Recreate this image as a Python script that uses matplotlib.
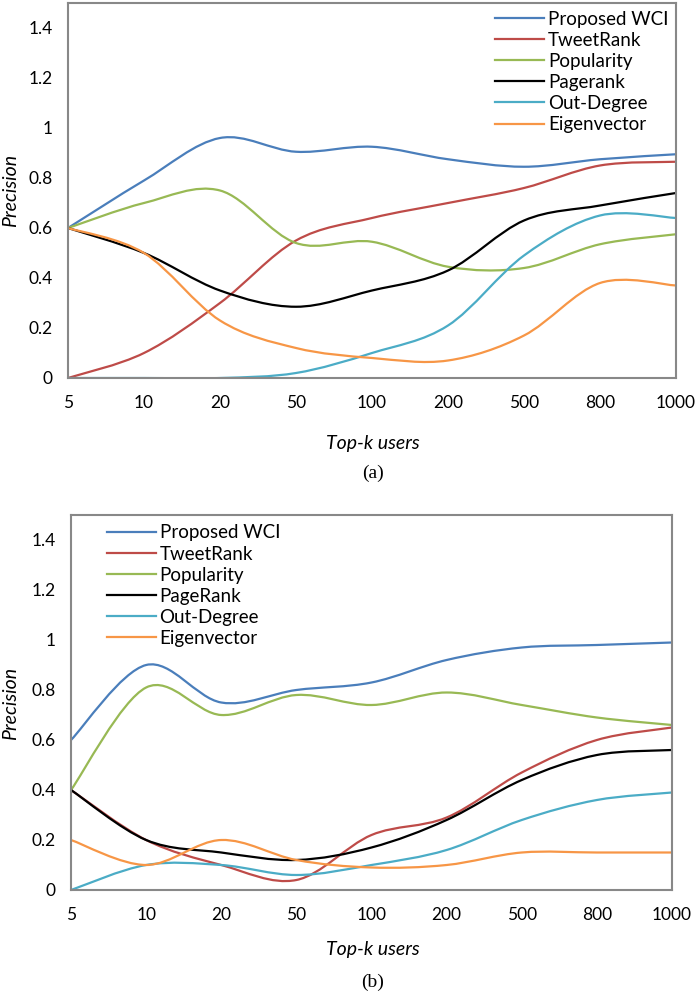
import matplotlib
matplotlib.use('Agg')
import matplotlib.pyplot as plt
from matplotlib.path import Path
from matplotlib.patches import PathPatch
from matplotlib.lines import Line2D

plt.rcParams['font.family'] = ['Lato', 'DejaVu Sans']

k_labels = ['5', '10', '20', '50', '100', '200', '500', '800', '1000']

# panel (a)
a_wci = [0.60, 0.79, 0.96, 0.905, 0.925, 0.875, 0.845, 0.875, 0.895]
a_tweet = [0.00, 0.10, 0.30, 0.55, 0.64, 0.70, 0.76, 0.85, 0.865]
a_pop = [0.60, 0.70, 0.75, 0.54, 0.545, 0.445, 0.44, 0.535, 0.575]
a_page = [0.60, 0.50, 0.35, 0.285, 0.35, 0.43, 0.63, 0.69, 0.74]
a_out = [0.00, 0.00, 0.00, 0.02, 0.10, 0.21, 0.49, 0.65, 0.64]
a_eig = [0.60, 0.50, 0.23, 0.12, 0.08, 0.07, 0.17, 0.38, 0.37]

# panel (b)
b_wci = [0.60, 0.90, 0.75, 0.80, 0.83, 0.92, 0.97, 0.98, 0.99]
b_tweet = [0.40, 0.20, 0.10, 0.04, 0.22, 0.29, 0.47, 0.60, 0.65]
b_pop = [0.40, 0.81, 0.70, 0.78, 0.74, 0.79, 0.74, 0.69, 0.66]
b_page = [0.40, 0.20, 0.15, 0.12, 0.17, 0.28, 0.44, 0.54, 0.56]
b_out = [0.00, 0.10, 0.10, 0.06, 0.10, 0.16, 0.28, 0.36, 0.39]
b_eig = [0.20, 0.10, 0.20, 0.12, 0.09, 0.10, 0.15, 0.15, 0.15]

labels_a = ['Proposed WCI', 'TweetRank', 'Popularity', 'Pagerank', 'Out-Degree', 'Eigenvector']
labels_b = ['Proposed WCI', 'TweetRank', 'Popularity', 'PageRank', 'Out-Degree', 'Eigenvector']
colors = ['#4A7EBB', '#BE4B48', '#98B954', '#000000', '#4BACC6', '#F79646']


def smooth_path(xs, ys):
    # Excel-style smoothed line: cubic Bezier through every point
    n = len(xs)
    verts = [(xs[0], ys[0])]
    codes = [Path.MOVETO]
    for i in range(n - 1):
        i0 = max(i - 1, 0)
        i3 = min(i + 2, n - 1)
        c1 = (xs[i] + (xs[i + 1] - xs[i0]) / 6, ys[i] + (ys[i + 1] - ys[i0]) / 6)
        c2 = (xs[i + 1] - (xs[i3] - xs[i]) / 6, ys[i + 1] - (ys[i3] - ys[i]) / 6)
        verts += [c1, c2, (xs[i + 1], ys[i + 1])]
        codes += [Path.CURVE4] * 3
    return Path(verts, codes)


def draw_panel(ax, series, labels, leg_pos):
    xs = list(range(len(k_labels)))
    for ys, c in zip(series, colors):
        ax.add_patch(PathPatch(smooth_path(xs, ys), fill=False, edgecolor=c,
                               lw=1.6, capstyle='round', joinstyle='round'))
    ax.set_xlim(0, len(k_labels) - 1)
    ax.set_ylim(0, 1.5)
    ax.set_xticks(xs)
    ax.set_xticklabels(k_labels)
    ax.set_yticks([0, 0.2, 0.4, 0.6, 0.8, 1.0, 1.2, 1.4])
    ax.set_yticklabels(['0', '0.2', '0.4', '0.6', '0.8', '1', '1.2', '1.4'])
    ax.tick_params(axis='both', length=0, labelsize=12.5)
    ax.tick_params(axis='x', pad=12)
    ax.tick_params(axis='y', pad=11)
    for s in ax.spines.values():
        s.set_color('#888888')
        s.set_linewidth(1.5)
    handles = [Line2D([], [], color=c, lw=1.6) for c in colors]
    ax.legend(handles, labels, loc='upper left', bbox_to_anchor=leg_pos,
              frameon=False, fontsize=13.5, handlelength=2.6, handletextpad=0.2,
              labelspacing=0.22, borderpad=0, borderaxespad=0)


fig = plt.figure(figsize=(6.96, 9.94), dpi=100)
ax1 = fig.add_axes([68 / 696, 1 - 378 / 994, 608 / 696, 375 / 994])
ax2 = fig.add_axes([71 / 696, 1 - 890 / 994, 601 / 696, 375 / 994])

draw_panel(ax1, [a_wci, a_tweet, a_pop, a_page, a_out, a_eig], labels_a, (0.703, 0.98))
draw_panel(ax2, [b_wci, b_tweet, b_pop, b_page, b_out, b_eig], labels_b, (0.06, 0.975))

fig.text(11 / 696, 1 - 190 / 994, 'Precision', rotation=90, style='italic',
         fontsize=14, ha='center', va='center')
fig.text(11 / 696, 1 - 703 / 994, 'Precision', rotation=90, style='italic',
         fontsize=14, ha='center', va='center')
fig.text(373 / 696, 1 - 443 / 994, 'Top-k users', style='italic', fontsize=14,
         ha='center', va='center')
fig.text(373 / 696, 1 - 949 / 994, 'Top-k users', style='italic', fontsize=14,
         ha='center', va='center')
fig.text(373 / 696, 1 - 473 / 994, '(a)', family='Liberation Serif', fontsize=14,
         ha='center', va='center')
fig.text(373 / 696, 1 - 982 / 994, '(b)', family='Liberation Serif', fontsize=14,
         ha='center', va='center')

fig.savefig('out.png', dpi=100)
